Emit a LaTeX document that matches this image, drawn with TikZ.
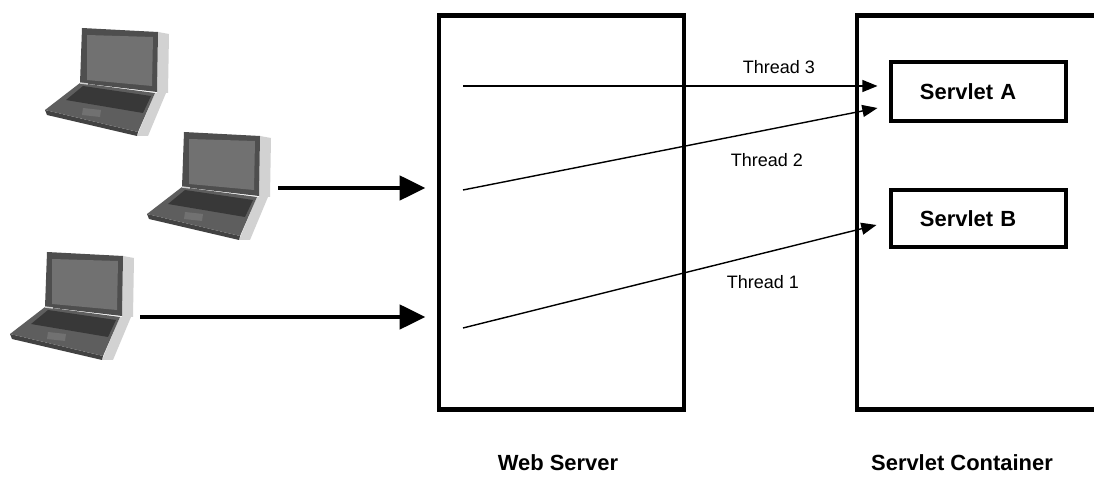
\documentclass[tikz,border=0pt]{standalone}
\usepackage{fontspec}
\setmainfont{Liberation Sans}
\usepackage{tikz}
\usetikzlibrary{arrows.meta, calc}

\definecolor{lidgray}{HTML}{4E4E4E}
\definecolor{screengray}{HTML}{717171}
\definecolor{basegray}{HTML}{5E5E5E}
\definecolor{keygray}{HTML}{383838}
\definecolor{edgegray}{HTML}{424242}
\definecolor{shadowgray}{HTML}{D2D2D2}

\tikzset{
  box/.style = {draw, line width = 3.5pt, inner sep = 0pt},
  servlet/.style = {box, minimum width = 4.375cm, text width = 2.925cm,
    inner xsep = 0.725cm, align = left, font = \fontsize{15.6}{18}\selectfont\bfseries},
  boxlabel/.style = {font = \fontsize{15.6}{18}\selectfont\bfseries},
  threadlabel/.style = {font = \fontsize{12.8}{15}\selectfont},
  thread/.style = {-{Triangle[length = 0.38cm, width = 0.3cm]}, line width = 1pt},
  request/.style = {-{Triangle[length = 0.65cm, width = 0.6cm]}, line width = 3.5pt},
  laptop/.pic = {
    % shadows
    \fill [shadowgray] (78, -51) -- (89, -49) -- (88, 10) -- (77, 10) -- cycle;
    \fill [shadowgray] (75, 10) -- (86, 10) -- (68, 53) -- (57, 53) -- cycle;
    % lid and screen
    \fill [lidgray] (2, -55) -- (78, -51) -- (77, 9) -- (0, 0) -- cycle;
    \fill [screengray] (7, -48) -- (73, -46) -- (72, 3) -- (7, -3) -- cycle;
    % base, keys, pad
    \fill [edgegray] (-35, 27) -- (58, 49) -- (57, 53) -- (-33, 32) -- cycle;
    \fill [basegray] (0, 0) -- (75, 10) -- (58, 49) -- (-35, 27) -- cycle;
    \fill [keygray] (3, 3) -- (71, 13) -- (63, 30) -- (-14, 17) -- cycle;
    \fill [screengray] (3, 25) -- (21, 27) -- (20, 34) -- (2, 32) -- cycle;
    \draw [shadowgray, line width = 1pt] (0, 0) -- (8, 1);
  }
}

\begin{document}
\begin{tikzpicture}[x = 0.025cm, y = -0.025cm]
\useasboundingbox (0, 0) rectangle (1094, 477);

% clients
\coordinate (pc1) at (80, 83);
\coordinate (pc2) at (182, 187);
\coordinate (pc3) at (45, 307);
\pic at (pc1) {laptop};
\pic at (pc2) {laptop};
\pic at (pc3) {laptop};

% boxes
\node (web) [box, minimum width = 6.125cm, minimum height = 9.825cm] at (561.5, 212.5) {};
\node (container) [box, minimum width = 6.075cm, minimum height = 9.825cm] at (978.5, 212.5) {};
\node (servletA) [servlet, minimum height = 1.475cm] at (978.5, 91.5) {Servlet A};
\node (servletB) [servlet, minimum height = 1.425cm] at (978.5, 218.5) {Servlet B};

\node (weblabel) [boxlabel] at (558, 463) {Web Server};
\node (containerlabel) [boxlabel] at (962, 463) {Servlet Container};

% requests
\coordinate (out2) at (278, 188);
\coordinate (out3) at (140, 317);
\draw [request, shorten >= 0.275cm] (out2) -- (out2 -| web.west);
\draw [request, shorten >= 0.275cm] (out3) -- (out3 -| web.west);

% threads
\coordinate (s3) at (463, 86);
\coordinate (s2) at (463, 190);
\coordinate (s1) at (463, 328);
\draw [thread] (s3) -- ($(servletA.west) + (-11, -5.5)$);
\draw [thread] (s2) -- ($(servletA.west) + (-11, 16.5)$);
\draw [thread] (s1) -- ($(servletB.west) + (-12, 6.5)$);
\node (t3label) [threadlabel] at (779, 67) {Thread 3};
\node (t2label) [threadlabel] at (767, 160) {Thread 2};
\node (t1label) [threadlabel] at (763, 282) {Thread 1};
\end{tikzpicture}
\end{document}
